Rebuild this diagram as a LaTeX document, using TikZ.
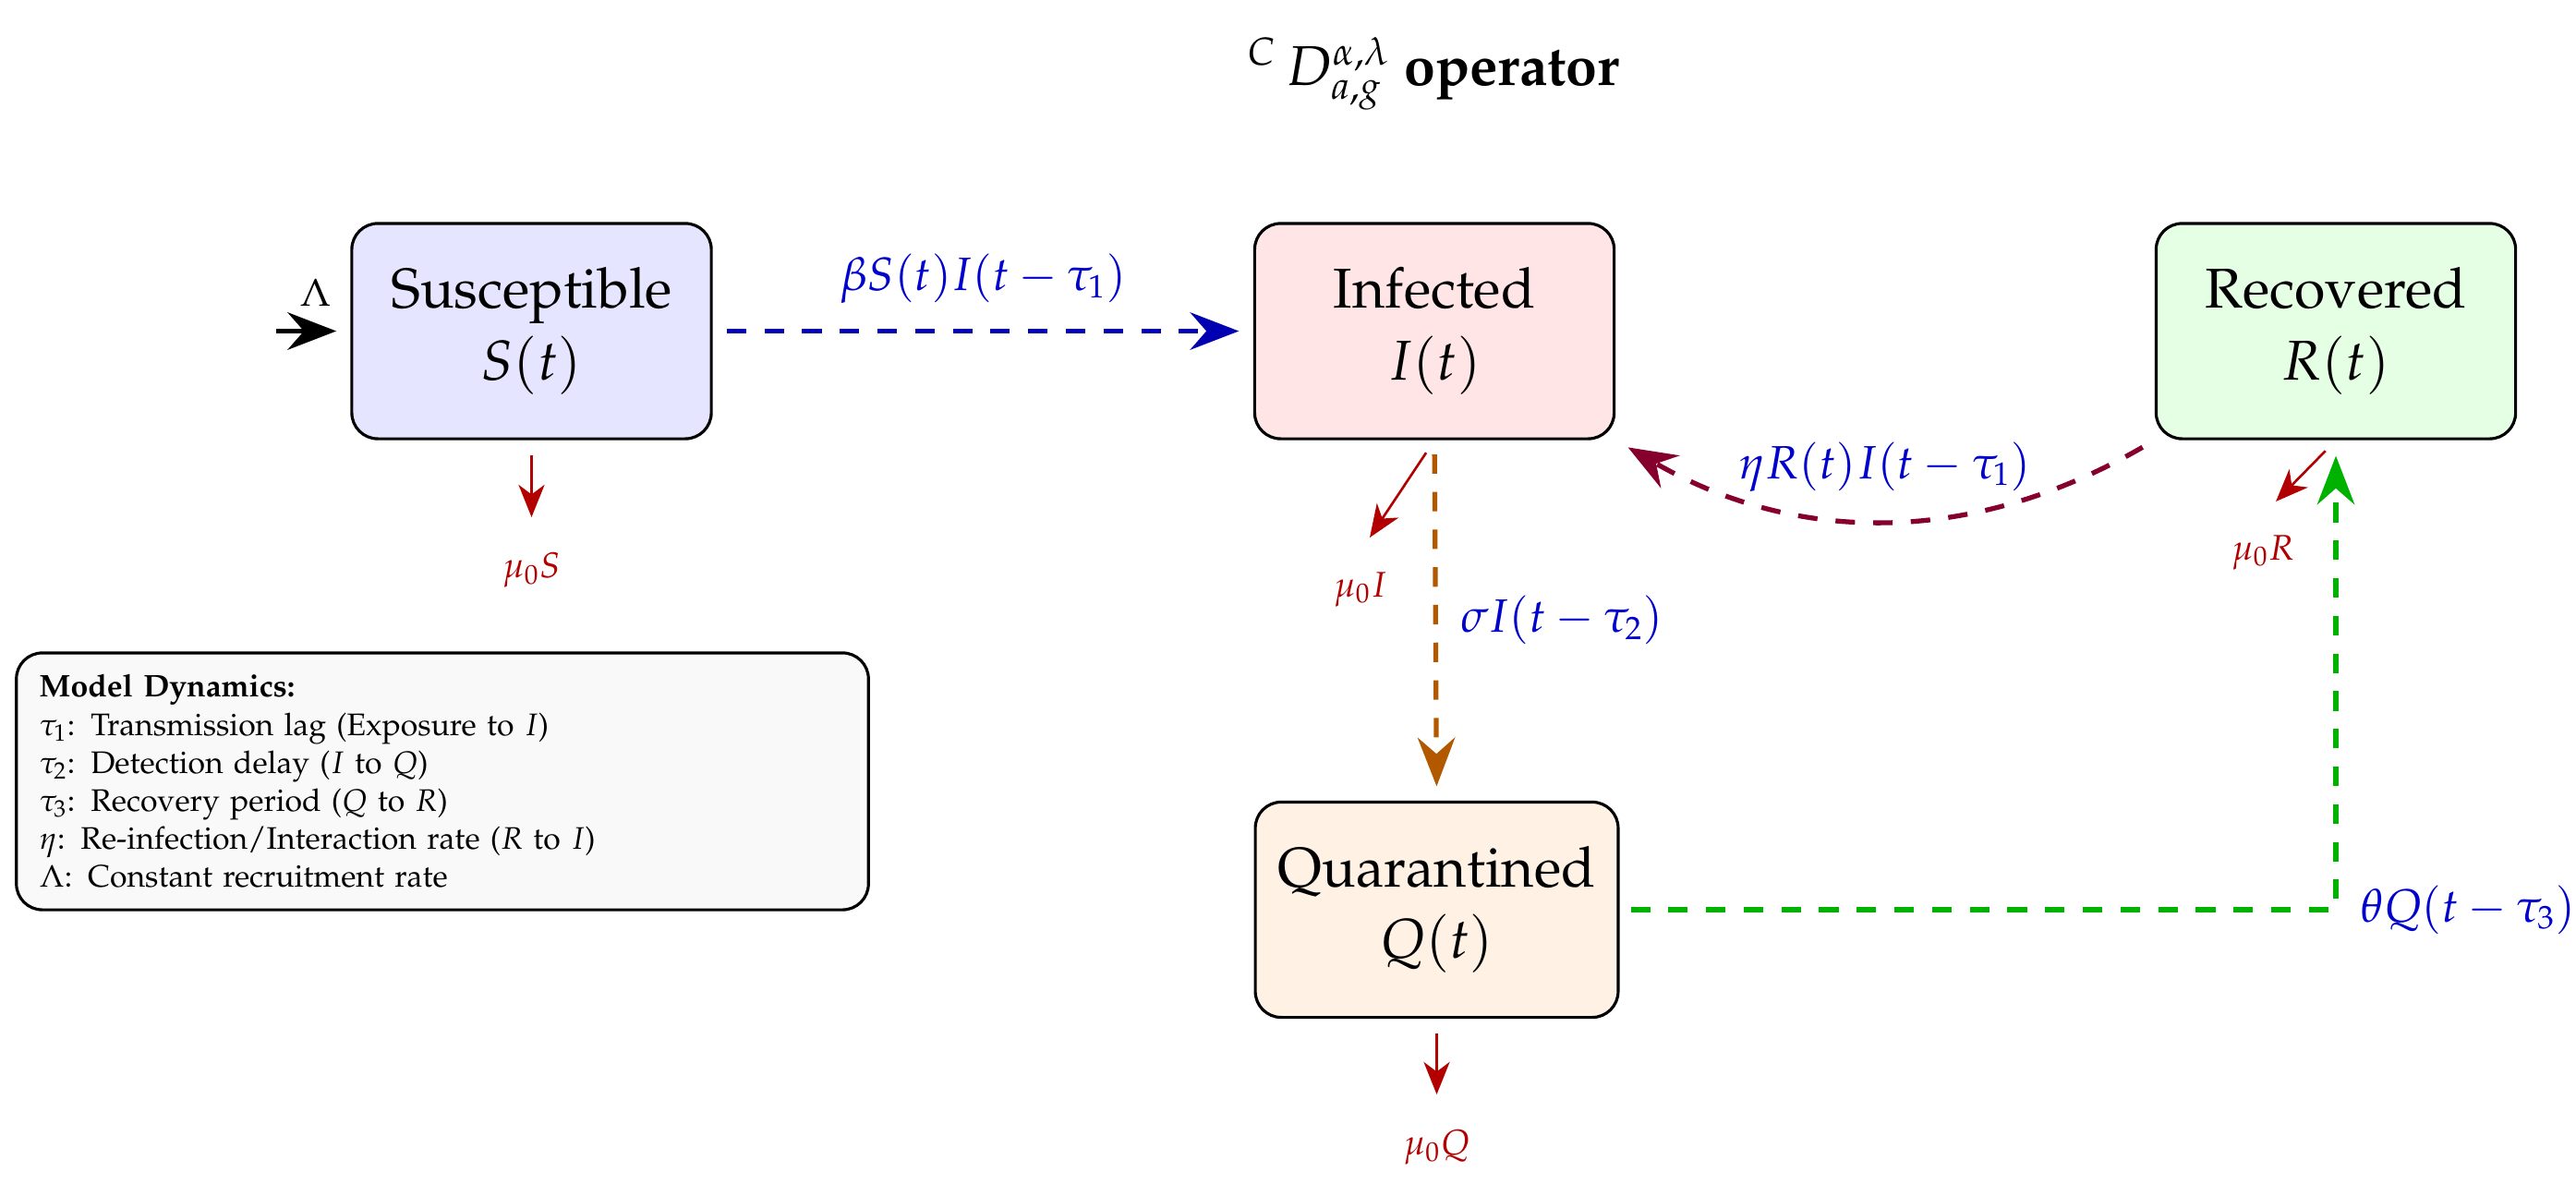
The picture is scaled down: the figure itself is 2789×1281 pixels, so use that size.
\documentclass[tikz,border=0pt]{standalone}
\usepackage[T1]{fontenc}
\usepackage{mathpazo}
\usetikzlibrary{arrows.meta}
\tikzset{
  compbox/.style={draw=black, line width=0.9pt, rounded corners=8pt,
    minimum width=3.89cm, minimum height=2.33cm, align=center,
    font=\LARGE, inner xsep=7pt},
  bigtip/.style={-{Stealth[length=15pt,width=11.5pt,inset=5pt]}},
  flow/.style={bigtip, line width=1.5pt, dash pattern=on 6pt off 5.6pt,
    shorten <=4.3pt, shorten >=4.4pt},
  death/.style={-{Stealth[length=10pt,width=8pt,inset=3pt]},
    line width=0.75pt, draw=red!70!black, shorten <=4.6pt},
  deathlab/.style={text=red!70!black, font=\fontsize{11}{13}\selectfont, inner sep=0pt},
  ratelab/.style={text=blue!80!black, font=\Large, inner sep=0pt}
}
\begin{document}
\begin{tikzpicture}[x=0.01cm, y=-0.01cm]
\path[use as bounding box] (0,0) rectangle (2789,1281);

% title
\node[font=\LARGE] (title) at (1552,80) {${}^{C}\,D^{\alpha,\lambda}_{a,g}$ \textbf{operator}};

% compartments
\node[compbox, fill=blue!10] (S) at (575.5,358.5) {Susceptible\\$S(t)$};
\node[compbox, fill=red!10] (I) at (1553,358.5) {Infected\\$I(t)$};
\node[compbox, fill=green!10] (R) at (2529,358.5) {Recovered\\$R(t)$};
\node[compbox, fill=orange!10] (Q) at (1555.5,985) {Quarantined\\$Q(t)$};

% legend
\node[draw=black, line width=0.9pt, rounded corners=8pt, fill=gray!5,
  minimum width=9.22cm, minimum height=2.78cm, text width=8.72cm,
  align=left, inner xsep=0.25cm, font=\fontsize{9.6}{11.7}\selectfont]
  (legend) at (479,846) {\textbf{Model Dynamics:}\\
$\tau_1$: Transmission lag (Exposure to $I$)\\
$\tau_2$: Detection delay ($I$ to $Q$)\\
$\tau_3$: Recovery period ($Q$ to $R$)\\
$\eta$: Re-infection/Interaction rate ($R$ to $I$)\\
$\Lambda$: Constant recruitment rate};

% recruitment
\coordinate (lam) at (299,358.5);
\draw[bigtip, line width=1.6pt, shorten >=4.3pt] (lam) -- (S.west);
\node[font=\large, inner sep=0pt] (lamlab) at (342,317) {$\Lambda$};

% S -> I
\draw[flow, draw=blue!70!black] (S.east) -- (I.west)
  node[ratelab, midway, above=7.7pt] (lbSI) {$\beta S(t)I(t-\tau_1)$};

% I -> Q
\draw[flow, draw=orange!70!black] (I.south) -- (Q.north)
  node[ratelab, midway, right=7pt] (lbIQ) {$\sigma I(t-\tau_2)$};

% R -> I
\draw[flow, draw=purple!70!black] (R.south west) to[bend left=30]
  node[ratelab, midway, above=7.7pt] (lbRI) {$\eta R(t)I(t-\tau_1)$}
  (I.south east);

% Q -> R
\draw[flow, draw=green!70!black, shorten <=3.4pt, shorten >=4.8pt] (Q.east) -| (R.south)
  node[ratelab, pos=0.5, right=6.8pt] (lbQR) {$\theta Q(t-\tau_3)$};

% deaths
\coordinate (dS) at (575.5,560);
\coordinate (dI) at (1483,582);
\coordinate (dR) at (2464,543);
\coordinate (dQ) at (1555.5,1185);
\draw[death] (S.south) -- (dS);
\draw[death] (I.south) -- (dI);
\draw[death] (R.south) -- (dR);
\draw[death] (Q.south) -- (dQ);
\node[deathlab] (muS) at (575.5,617) {$\mu_0 S$};
\node[deathlab] (muI) at (1473,638) {$\mu_0 I$};
\node[deathlab] (muR) at (2450,598) {$\mu_0 R$};
\node[deathlab] (muQ) at (1555.5,1242) {$\mu_0 Q$};
\end{tikzpicture}
\end{document}
